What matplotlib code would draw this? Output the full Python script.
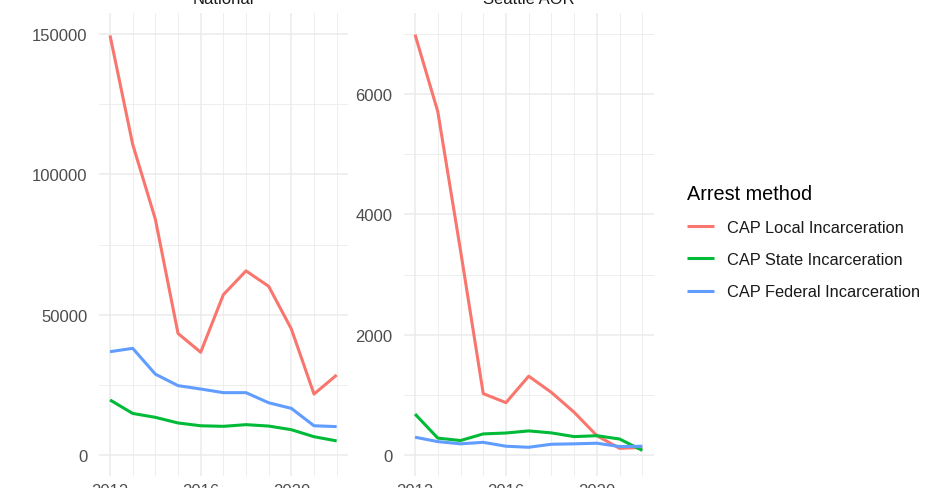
import matplotlib
matplotlib.use("Agg")
import matplotlib.pyplot as plt
from matplotlib.ticker import MultipleLocator

plt.rcParams["font.family"] = ["Liberation Sans", "DejaVu Sans"]

years = list(range(2012, 2023))

national_local = [149500, 110700, 84000, 43300, 36600, 57100, 65600, 60100, 44900, 21700, 28500]
national_state = [19600, 14800, 13400, 11400, 10400, 10200, 10800, 10300, 9000, 6500, 5000]
national_federal = [36800, 38000, 28800, 24700, 23500, 22200, 22200, 18600, 16600, 10400, 10100]

seattle_local = [6990, 5710, 3400, 1020, 870, 1310, 1040, 710, 320, 110, 125]
seattle_state = [680, 280, 240, 350, 365, 400, 367, 305, 320, 265, 75]
seattle_federal = [295, 222, 185, 210, 145, 128, 178, 185, 195, 140, 145]

series_names = ["CAP Local Incarceration", "CAP State Incarceration", "CAP Federal Incarceration"]
series_colors = ["#F8766D", "#00BA38", "#619CFF"]

panels = [
    ("National", [national_local, national_state, national_federal], 50000, 150000),
    ("Seattle AOR", [seattle_local, seattle_state, seattle_federal], 2000, 7000),
]

fig = plt.figure(figsize=(9.4, 4.89), dpi=100)
W, H = 940, 489
panel_boxes = [(98.7, 348.0), (403.7, 653.7)]
top_px, bottom_px = 14.0, 477.0

lines = []
for (title, series, major_step, ymax), (x0, x1) in zip(panels, panel_boxes):
    ax = fig.add_axes([x0 / W, (H - bottom_px) / H, (x1 - x0) / W, (bottom_px - top_px) / H])
    for values, name, color in zip(series, series_names, series_colors):
        (line,) = ax.plot(years, values, color=color, linewidth=2.2, label=name, solid_capstyle="butt")
        if title == "National":
            lines.append(line)
    pad_y = ymax * 0.05
    ax.set_ylim(-pad_y, ymax + pad_y)
    ax.set_xlim(2011.5, 2022.5)
    ax.set_xticks(years, minor=True)
    ax.set_xticks([2012, 2016, 2020])
    ax.yaxis.set_major_locator(MultipleLocator(major_step))
    ax.yaxis.set_minor_locator(MultipleLocator(major_step / 2))
    ax.grid(which="major", color="#EBEBEB", linewidth=1.1)
    ax.grid(which="minor", color="#EBEBEB", linewidth=0.6)
    ax.set_axisbelow(True)
    for spine in ax.spines.values():
        spine.set_visible(False)
    ax.tick_params(which="both", length=0, labelsize=12, labelcolor="#4D4D4D")
    ax.tick_params(axis="y", pad=8)
    ax.tick_params(axis="x", pad=5)
    ax.set_title(title, fontsize=12, color="#1A1A1A", pad=7)

leg = fig.legend(
    handles=lines,
    labels=series_names,
    loc="upper left",
    bbox_to_anchor=(672 / W, 1 - 170 / H),
    frameon=False,
    title="Arrest method",
    title_fontsize=14.3,
    fontsize=11.8,
    handlelength=1.65,
    handletextpad=0.8,
    labelspacing=1.05,
    alignment="left",
)
for t in leg.get_texts():
    t.set_color("#1A1A1A")

fig.savefig("out.png", dpi=100)
